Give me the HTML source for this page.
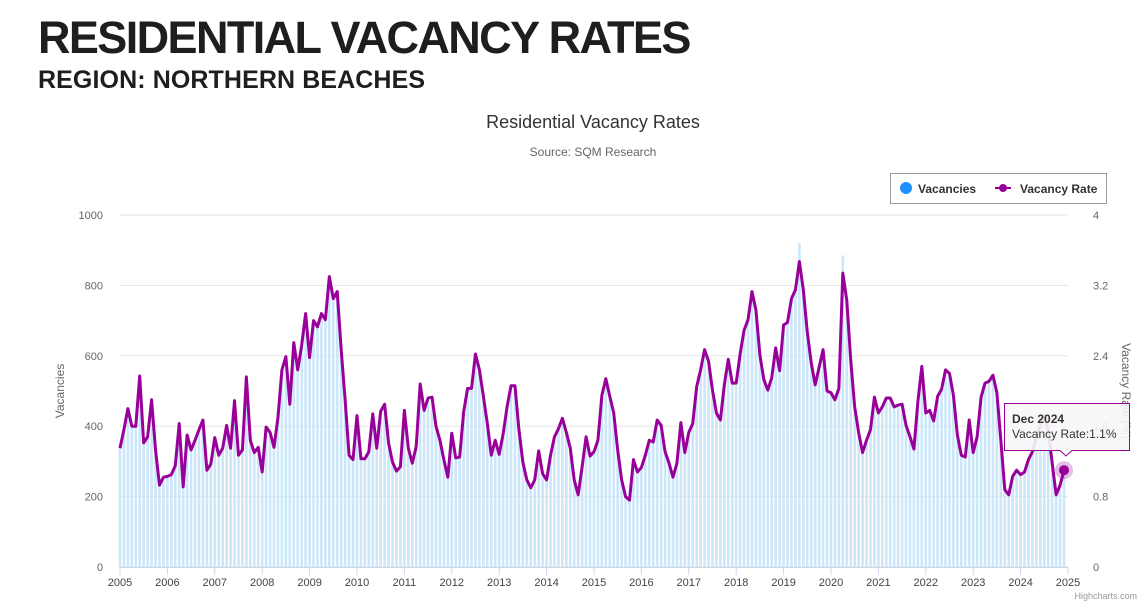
<!DOCTYPE html>
<html><head><meta charset="utf-8">
<style>
body{margin:0;width:1142px;height:603px;overflow:hidden;background:#fff;font-family:"Liberation Sans",sans-serif;}
h1{position:absolute;left:38px;top:12px;margin:0;font-size:45px;font-weight:900;color:#1e1e1e;letter-spacing:-1.6px;}
h2{position:absolute;left:38px;top:66px;margin:0;font-size:25px;font-weight:900;color:#1e1e1e;letter-spacing:0.1px;}
svg{position:absolute;left:0;top:0;}
</style></head><body>
<h1>RESIDENTIAL VACANCY RATES</h1>
<h2>REGION: NORTHERN BEACHES</h2>
<svg id="c" width="1142" height="603"></svg>
<script>
const years=[2005,2006,2007,2008,2009,2010,2011,2012,2013,2014,2015,2016,2017,2018,2019,2020,2021,2022,2023,2024,2025];
const leftTicks=[0,200,400,600,800,1000];
const rightTicks=["0","0.8","1.6","2.4","3.2","4"];
const rates=[1.35,1.56,1.8,1.6,1.6,2.17,1.41,1.48,1.9,1.33,0.93,1.02,
1.03,1.05,1.15,1.63,0.91,1.5,1.33,1.44,1.56,1.67,1.1,1.17,
1.47,1.27,1.35,1.61,1.35,1.89,1.27,1.33,2.16,1.44,1.3,1.36,
1.08,1.59,1.53,1.36,1.7,2.24,2.39,1.85,2.55,2.24,2.52,2.88,
2.38,2.8,2.73,2.88,2.81,3.3,3.05,3.13,2.47,1.9,1.27,1.22,
1.72,1.23,1.23,1.31,1.74,1.35,1.77,1.85,1.41,1.19,1.09,1.14,
1.78,1.35,1.18,1.37,2.08,1.78,1.92,1.93,1.6,1.44,1.22,1.02,
1.52,1.24,1.25,1.76,2.03,2.03,2.42,2.24,1.94,1.63,1.27,1.44,
1.28,1.51,1.82,2.06,2.06,1.56,1.19,0.99,0.9,0.99,1.32,1.06,
0.99,1.27,1.48,1.57,1.69,1.53,1.35,0.99,0.82,1.14,1.48,1.26,
1.31,1.44,1.95,2.14,1.94,1.75,1.33,0.99,0.8,0.76,1.22,1.08,
1.13,1.27,1.44,1.42,1.67,1.61,1.31,1.18,1.02,1.18,1.64,1.3,
1.53,1.63,2.05,2.24,2.47,2.34,2.01,1.75,1.67,2.07,2.36,2.09,
2.09,2.42,2.69,2.81,3.13,2.92,2.41,2.13,2.01,2.15,2.49,2.23,
2.75,2.78,3.05,3.15,3.47,3.15,2.67,2.32,2.07,2.27,2.47,2.0,
1.98,1.9,2.03,3.34,3.03,2.35,1.82,1.53,1.3,1.44,1.56,1.93,
1.75,1.82,1.92,1.92,1.82,1.84,1.85,1.61,1.48,1.34,1.88,2.28,
1.75,1.78,1.66,1.94,2.02,2.24,2.2,1.95,1.5,1.27,1.25,1.67,
1.3,1.48,1.93,2.09,2.11,2.18,1.98,1.44,0.88,0.82,1.03,1.1,
1.05,1.08,1.22,1.31,1.47,1.61,1.72,1.56,1.18,0.82,0.93,1.1];
const vacancies=[338,390,450,400,400,543,353,370,475,333,233,255,
258,263,288,408,228,375,333,360,390,418,275,293,
368,318,338,403,338,473,318,333,540,360,325,340,
270,398,383,340,425,560,598,463,638,560,630,720,
595,700,683,720,703,790,763,783,618,475,318,305,
430,308,308,328,435,338,443,463,353,298,273,285,
445,338,295,343,520,445,480,483,400,360,305,255,
380,310,313,440,508,508,605,560,485,408,318,360,
320,378,455,515,515,390,298,248,225,248,330,265,
248,318,370,393,423,383,338,248,205,285,370,315,
328,360,488,535,485,438,333,248,200,190,305,270,
283,318,360,355,418,403,328,295,255,295,410,325,
383,408,513,560,618,585,503,438,418,518,590,523,
523,605,673,703,783,730,603,533,503,538,623,558,
688,695,763,788,920,788,668,580,518,568,618,500,
495,475,508,885,758,588,455,383,325,360,390,483,
438,455,480,480,455,460,463,403,370,335,470,570,
438,445,415,485,505,560,550,488,375,318,313,418,
325,370,483,523,528,545,495,360,220,205,258,275,
263,270,305,328,368,403,430,390,295,205,233,275];
const NS="http://www.w3.org/2000/svg";
const svg=document.getElementById('c');
const X0=120,X1=1068,Y0=567,Y1=215;
const xm=i=>X0+(i+0.5)*(X1-X0)/240-2;
const xy=y=>X0+(y-2005)*(X1-X0)/20;
const yl=v=>Y0-v*(Y0-Y1)/1000;
const yr=v=>Y0-v*(Y0-Y1)/4;
function mk(t,a,txt){const e=document.createElementNS(NS,t);for(const k in a)e.setAttribute(k,a[k]);if(txt!==undefined)e.textContent=txt;svg.appendChild(e);return e;}
let e;
e=mk('text',{x:593,y:128,'text-anchor':'middle','font-size':18,fill:'#333'},'Residential Vacancy Rates');


e=mk('text',{x:593,y:156,'text-anchor':'middle','font-size':12,fill:'#666'},'Source: SQM Research');


leftTicks.forEach((t,i)=>{
 e=mk('line',{x1:X0,x2:X1,y1:yl(t),y2:yl(t),stroke:'#e6e6e6'});
 
 
 e=mk('text',{x:103,y:yl(t)+4,'text-anchor':'end','font-size':11,fill:'#666'},String(t));
 
 
 e=mk('text',{x:1093,y:yl(t)+4,'font-size':11,fill:'#666'},rightTicks[i]);
 
 
});
vacancies.forEach((v,i)=>{
 e=mk('rect',{x:xm(i)-1.3,y:yl(v),width:2.6,height:Y0-yl(v),fill:'#cce6fa'});
 
 
});
e=mk('line',{x1:X0,x2:X1,y1:Y0+0.5,y2:Y0+0.5,stroke:'#ccd6eb'});


years.forEach(y=>{
 e=mk('line',{x1:xy(y),x2:xy(y),y1:Y0,y2:Y0+8,stroke:'#ccd6eb'});
 
 
 e=mk('text',{x:xy(y),y:Y0+19,'text-anchor':'middle','font-size':11,fill:'#444'},String(y));
 
 
});
e=mk('polyline',{points:rates.map((r,i)=>xm(i)+','+yr(r)).join(' '),fill:'none',stroke:'#990099','stroke-width':3,'stroke-linejoin':'round'});


e=mk('text',{transform:'translate(64,391) rotate(-90)','text-anchor':'middle','font-size':12,fill:'#666'},'Vacancies');


e=mk('text',{transform:'translate(1122,391) rotate(90)','text-anchor':'middle','font-size':12,fill:'#666'},'Vacancy Rate (%)');


e=mk('rect',{x:890.5,y:173.5,width:216,height:30,fill:'#fff',stroke:'#999',rx:0});


e=mk('circle',{cx:906,cy:188,r:6,fill:'#1e90ff'});


e=mk('text',{x:918,y:193,'font-size':12,'font-weight':'bold',fill:'#333'},'Vacancies');


e=mk('line',{x1:995,x2:1011,y1:188,y2:188,stroke:'#990099','stroke-width':2});


e=mk('circle',{cx:1003,cy:188,r:4,fill:'#990099'});


e=mk('text',{x:1020,y:193,'font-size':12,'font-weight':'bold',fill:'#333'},'Vacancy Rate');


const li=rates.length-1;
e=mk('circle',{cx:xm(li),cy:yr(rates[li]),r:9,fill:'#990099','fill-opacity':0.25});


e=mk('circle',{cx:xm(li),cy:yr(rates[li]),r:5,fill:'#990099'});


e=mk('path',{d:'M1004.5,403.5 H1129.5 V450.5 H1072 L1066,456 L1060,450.5 H1004.5 Z',fill:'#f7f7f7','fill-opacity':0.9,stroke:'#990099'});


e=mk('text',{x:1012,y:423,'font-size':12,'font-weight':'bold',fill:'#333'},'Dec 2024');


e=mk('text',{x:1012,y:438,'font-size':12,fill:'#333'},'Vacancy Rate:1.1%');


e=mk('text',{x:1137,y:599,'text-anchor':'end','font-size':9,fill:'#999'},'Highcharts.com');


</script>
</body></html>
